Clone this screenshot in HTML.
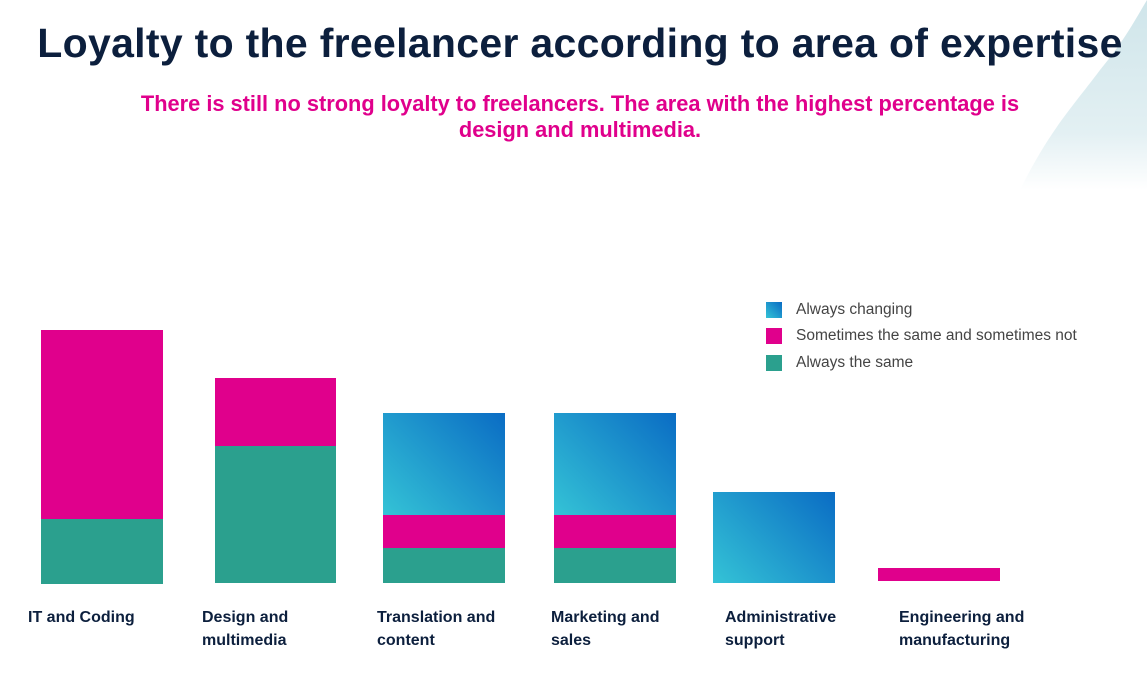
<!DOCTYPE html>
<html><head><style>
body{margin:0;width:1147px;height:675px;background:#fff;position:relative;overflow:hidden;font-family:"Liberation Sans",sans-serif}
.t{position:absolute;left:0;width:1160px;text-align:center;top:20px;font-size:41px;font-weight:bold;color:#0c1f3d;letter-spacing:0.3px}
.s{position:absolute;left:80px;width:1000px;text-align:center;top:91px;font-size:21.8px;font-weight:bold;color:#e0008c;line-height:26px}
.b{position:absolute}
.bl{background:linear-gradient(45deg,#34c3d6,#0a6cc4)}
.pk{background:#e0008c}
.tl{background:#2ba08e}
.lab{position:absolute;top:606px;font-size:16px;font-weight:bold;color:#0c1f3d;line-height:23px}
.lg{position:absolute;left:766px;font-size:15.5px;color:#444}
.lg i{position:absolute;left:0;width:16px;height:16px}
.lg span{position:absolute;left:30px;top:-1px;white-space:nowrap}
</style></head><body>
<svg width="1147" height="675" style="position:absolute;left:0;top:0">
<defs><linearGradient id="g" x1="0" y1="0" x2="0" y2="1"><stop offset="0" stop-color="#cfe5ea"/><stop offset="0.7" stop-color="#e3f0f3"/><stop offset="1" stop-color="#fff"/></linearGradient></defs>
<path d="M1147 0 L1147 190 L1020 190 C1050 130 1070 110 1100 70 C1125 40 1135 20 1147 0Z" fill="url(#g)"/>
</svg>
<div class="t">Loyalty to the freelancer according to area of expertise</div>
<div class="s">There is still no strong loyalty to freelancers. The area with the highest percentage is<br>design and multimedia.</div>
<div class="b pk" style="left:41px;top:330px;width:122px;height:189px"></div>
<div class="b tl" style="left:41px;top:519px;width:122px;height:65px"></div>
<div class="b pk" style="left:215px;top:378px;width:121px;height:68px"></div>
<div class="b tl" style="left:215px;top:446px;width:121px;height:137px"></div>
<div class="b bl" style="left:383px;top:413px;width:122px;height:102px"></div>
<div class="b pk" style="left:383px;top:515px;width:122px;height:33px"></div>
<div class="b tl" style="left:383px;top:548px;width:122px;height:35px"></div>
<div class="b bl" style="left:554px;top:413px;width:122px;height:102px"></div>
<div class="b pk" style="left:554px;top:515px;width:122px;height:33px"></div>
<div class="b tl" style="left:554px;top:548px;width:122px;height:35px"></div>
<div class="b bl" style="left:713px;top:492px;width:122px;height:91px"></div>
<div class="b pk" style="left:878px;top:568px;width:122px;height:13px"></div>
<div class="lab" style="left:28px">IT and Coding</div>
<div class="lab" style="left:202px">Design and<br>multimedia</div>
<div class="lab" style="left:377px">Translation and<br>content</div>
<div class="lab" style="left:551px">Marketing and<br>sales</div>
<div class="lab" style="left:725px">Administrative<br>support</div>
<div class="lab" style="left:899px">Engineering and<br>manufacturing</div>
<div class="lg" style="top:302px"><i class="bl"></i><span>Always changing</span></div>
<div class="lg" style="top:328px"><i class="pk"></i><span>Sometimes the same and sometimes not</span></div>
<div class="lg" style="top:355px"><i class="tl"></i><span>Always the same</span></div>
</body></html>
